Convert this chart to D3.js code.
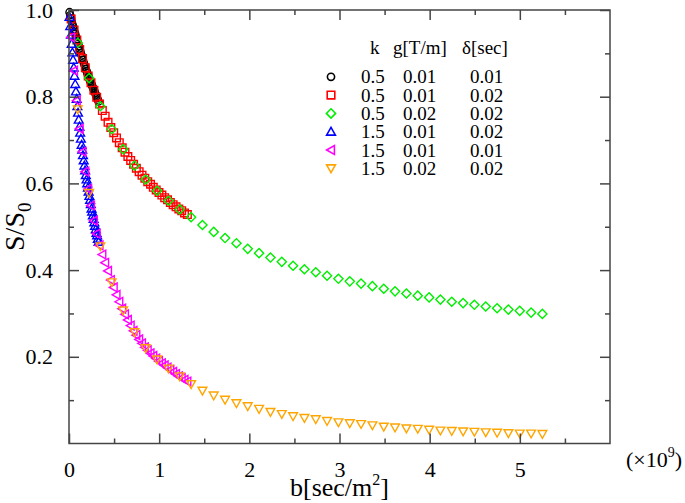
<!DOCTYPE html>
<html>
<head>
<meta charset="utf-8">
<script src="https://cdn.jsdelivr.net/npm/d3@7"></script>
<style>
  html, body { margin: 0; padding: 0; background: #fff; }
  svg { display: block; }
</style>
</head>
<body>
<svg id="chart" width="685" height="503"></svg>
<script>
// ---------------- data ----------------
// b values (×10^9 sec/m^2) of the three sampling grids
const bFine = [0.006,0.014,0.022,0.030,0.038,0.045,0.053,0.061,0.069,0.077,0.085,0.093,0.100,0.108,0.116,0.124,0.132,0.140,0.147,0.155,0.163,0.171,0.179,0.187,0.195,0.202,0.210,0.218,0.226,0.234,0.242,0.250,0.257,0.265,0.273,0.281,0.289,0.297,0.305,0.312,0.320,0.328];
const bMid = [0.024,0.056,0.087,0.119,0.150,0.181,0.213,0.244,0.276,0.307,0.339,0.370,0.401,0.433,0.464,0.496,0.527,0.558,0.590,0.621,0.653,0.684,0.716,0.747,0.778,0.810,0.841,0.873,0.904,0.935,0.967,0.998,1.030,1.061,1.093,1.124,1.155,1.187,1.218,1.250,1.281,1.313];
const bCoarse = [0.097,0.223,0.348,0.474,0.600,0.726,0.851,0.977,1.103,1.228,1.354,1.480,1.605,1.731,1.857,1.982,2.108,2.234,2.360,2.485,2.611,2.737,2.862,2.988,3.114,3.239,3.365,3.491,3.616,3.742,3.868,3.994,4.119,4.245,4.371,4.496,4.622,4.748,4.873,4.999,5.125,5.250];

// S/S0 values
const sBlack = [0.995,0.988,0.981,0.974,0.967,0.962,0.956,0.950,0.945,0.939,0.933,0.927,0.922,0.917,0.911,0.906,0.900,0.895,0.890,0.885,0.879,0.874,0.869,0.864,0.859,0.855,0.850,0.846,0.841,0.837,0.833,0.829,0.825,0.821,0.817,0.813,0.809,0.805,0.801,0.797,0.793,0.789];
const sRed = [0.979,0.954,0.931,0.909,0.888,0.867,0.848,0.832,0.815,0.799,0.783,0.768,0.755,0.741,0.729,0.717,0.705,0.694,0.682,0.672,0.662,0.653,0.644,0.635,0.627,0.619,0.612,0.604,0.598,0.591,0.585,0.579,0.573,0.567,0.562,0.556,0.551,0.546,0.541,0.537,0.532,0.528];
const sGreen = [0.924,0.843,0.778,0.725,0.679,0.641,0.609,0.583,0.560,0.540,0.522,0.504,0.488,0.474,0.462,0.449,0.439,0.429,0.419,0.410,0.402,0.395,0.387,0.380,0.374,0.369,0.363,0.357,0.351,0.346,0.341,0.337,0.332,0.327,0.324,0.320,0.316,0.312,0.309,0.306,0.302,0.299];
const sBlue = [0.984,0.963,0.943,0.922,0.902,0.885,0.867,0.848,0.829,0.812,0.795,0.778,0.763,0.747,0.731,0.717,0.703,0.689,0.678,0.665,0.653,0.641,0.630,0.619,0.609,0.600,0.590,0.581,0.571,0.562,0.552,0.542,0.535,0.526,0.518,0.510,0.502,0.494,0.486,0.480,0.472,0.465];
const sMagenta = [0.937,0.860,0.791,0.726,0.673,0.627,0.587,0.549,0.514,0.484,0.457,0.436,0.417,0.398,0.377,0.360,0.343,0.327,0.311,0.298,0.285,0.272,0.260,0.250,0.240,0.231,0.222,0.215,0.208,0.202,0.196,0.190,0.185,0.180,0.175,0.170,0.165,0.160,0.155,0.151,0.147,0.143];
const sOrange = [0.771,0.578,0.455,0.372,0.307,0.257,0.220,0.194,0.173,0.155,0.137,0.122,0.111,0.101,0.093,0.086,0.080,0.073,0.068,0.063,0.059,0.056,0.052,0.049,0.047,0.045,0.042,0.039,0.037,0.035,0.034,0.032,0.030,0.029,0.028,0.027,0.026,0.025,0.024,0.023,0.023,0.022];

// legend table
const legendK = ["0.5","0.5","0.5","1.5","1.5","1.5"];
const legendG = ["0.01","0.01","0.02","0.01","0.01","0.02"];
const legendDelta = ["0.01","0.02","0.02","0.02","0.01","0.02"];
const legendHeaders = ["k","g[T/m]","δ[sec]"];

// ticks
const xTickValues = [0,1,2,3,4,5];
const xTickLabels = ["0","1","2","3","4","5"];
const xMinorValues = [0.5,1.5,2.5,3.5,4.5,5.5];
const yTickValues = [0.2,0.4,0.6,0.8,1.0];
const yTickLabels = ["0.2","0.4","0.6","0.8","1.0"];
const yMinorValues = [0.1,0.3,0.5,0.7,0.9];

// ---------------- drawing ----------------
const FONT = "'Liberation Serif', 'Times New Roman', Times, 'DejaVu Serif', serif";
const svg = d3.select("#chart").attr("font-family", FONT);
const L = 69, R = 610, T = 10, B = 443.5;
const x = d3.scaleLinear().domain([0, 6]).range([L, R]);
const y = d3.scaleLinear().domain([0, 1]).range([B, T]);

const symbols = {
  circle: "M3.6,0A3.6,3.6,0,1,1,-3.6,0A3.6,3.6,0,1,1,3.6,0Z",
  square: "M-3.8,-3.8H3.8V3.8H-3.8Z",
  diamond: "M0,-4.6L4.6,0L0,4.6L-4.6,0Z",
  triUp: "M0,-4.4L4.4,3.4L-4.4,3.4Z",
  triLeft: "M-4.4,0L3.4,-4.4L3.4,4.4Z",
  triDown: "M-4.4,-3.4L4.4,-3.4L0,4.4Z"
};

const series = [
  {xs: bFine,   ys: sBlack,   color: "#000000", sym: "circle"},
  {xs: bMid,    ys: sRed,     color: "#ff0000", sym: "square"},
  {xs: bCoarse, ys: sGreen,   color: "#00ee00", sym: "diamond"},
  {xs: bFine,   ys: sBlue,    color: "#0000ff", sym: "triUp"},
  {xs: bMid,    ys: sMagenta, color: "#ff00ff", sym: "triLeft"},
  {xs: bCoarse, ys: sOrange,  color: "#ffa500", sym: "triDown"}
];

// markers
series.forEach(s => {
  const pts = s.xs.map((v, i) => [v, s.ys[i]]);
  svg.append("g").selectAll("path").data(pts).join("path")
    .attr("d", symbols[s.sym])
    .attr("transform", d => `translate(${x(d[0])},${y(d[1])})`)
    .attr("fill", "none")
    .attr("stroke", s.color)
    .attr("stroke-width", 1.4);
});

// frame
const axisColor = "#444";
svg.append("rect").attr("x", L).attr("y", T).attr("width", R - L).attr("height", B - T)
  .attr("fill", "none").attr("stroke", axisColor).attr("stroke-width", 1.5);

function styleAxis(g) {
  g.attr("font-family", FONT);
  g.select(".domain").remove();
  g.selectAll(".tick line").attr("stroke", axisColor).attr("stroke-width", 1.5);
  g.selectAll("text").attr("font-family", FONT).attr("font-size", 22).attr("fill", "#000");
}
// bottom major + labels
svg.append("g").attr("transform", `translate(0,${B})`)
  .call(d3.axisBottom(x).tickValues(xTickValues).tickSizeInner(-10).tickSizeOuter(0).tickPadding(18)
        .tickFormat((d, i) => xTickLabels[i]))
  .call(styleAxis);
svg.append("g").attr("transform", `translate(0,${B})`)
  .call(d3.axisBottom(x).tickValues(xMinorValues).tickSizeInner(-5).tickSizeOuter(0).tickFormat(""))
  .call(styleAxis);
// top
svg.append("g").attr("transform", `translate(0,${T})`)
  .call(d3.axisTop(x).tickValues(xTickValues).tickSizeInner(-10).tickSizeOuter(0).tickFormat(""))
  .call(styleAxis);
svg.append("g").attr("transform", `translate(0,${T})`)
  .call(d3.axisTop(x).tickValues(xMinorValues).tickSizeInner(-5).tickSizeOuter(0).tickFormat(""))
  .call(styleAxis);
// left
svg.append("g").attr("transform", `translate(${L},0)`)
  .call(d3.axisLeft(y).tickValues(yTickValues).tickSizeInner(-10).tickSizeOuter(0).tickPadding(16)
        .tickFormat((d, i) => yTickLabels[i]))
  .call(styleAxis);
svg.append("g").attr("transform", `translate(${L},0)`)
  .call(d3.axisLeft(y).tickValues(yMinorValues).tickSizeInner(-5).tickSizeOuter(0).tickFormat(""))
  .call(styleAxis);
// right
svg.append("g").attr("transform", `translate(${R},0)`)
  .call(d3.axisRight(y).tickValues(yTickValues).tickSizeInner(-10).tickSizeOuter(0).tickFormat(""))
  .call(styleAxis);
svg.append("g").attr("transform", `translate(${R},0)`)
  .call(d3.axisRight(y).tickValues(yMinorValues).tickSizeInner(-5).tickSizeOuter(0).tickFormat(""))
  .call(styleAxis);

// axis titles
const xt = svg.append("text").attr("x", (L + R) / 2).attr("y", 496).attr("text-anchor", "middle")
  .attr("font-family", FONT).attr("font-size", 26);
xt.append("tspan").text("b[sec/m");
xt.append("tspan").attr("font-size", 16).attr("dy", -11).text("2");
xt.append("tspan").attr("dy", 11).text("]");

const yt = svg.append("text").attr("transform", `translate(24,${(T + B) / 2}) rotate(-90)`)
  .attr("text-anchor", "middle").attr("font-family", FONT).attr("font-size", 28);
yt.append("tspan").text("S/S");
yt.append("tspan").attr("font-size", 19).attr("dy", 7).text("0");

const sc = svg.append("text").attr("x", 626).attr("y", 467).attr("font-family", FONT).attr("font-size", 22);
sc.append("tspan").text("(×10");
sc.append("tspan").attr("font-size", 14).attr("dy", -10).text("9");
sc.append("tspan").attr("dy", 10).text(")");

// legend
const legFont = 19;
const headerX = [370, 393, 462];
legendHeaders.forEach((h, i) => {
  svg.append("text").attr("x", headerX[i]).attr("y", 54).attr("font-family", FONT).attr("font-size", legFont).text(h);
});
const rowY0 = 83.3, rowDy = 18.3;
series.forEach((s, i) => {
  const by = rowY0 + i * rowDy;
  svg.append("path").attr("d", symbols[s.sym])
    .attr("transform", `translate(331,${by - 6.5})`)
    .attr("fill", "none").attr("stroke", s.color).attr("stroke-width", 1.6);
  [[361, legendK[i]], [403, legendG[i]], [470, legendDelta[i]]].forEach(([cx, t]) => {
    svg.append("text").attr("x", cx).attr("y", by).attr("font-family", FONT).attr("font-size", legFont).text(t);
  });
});
</script>
</body>
</html>
